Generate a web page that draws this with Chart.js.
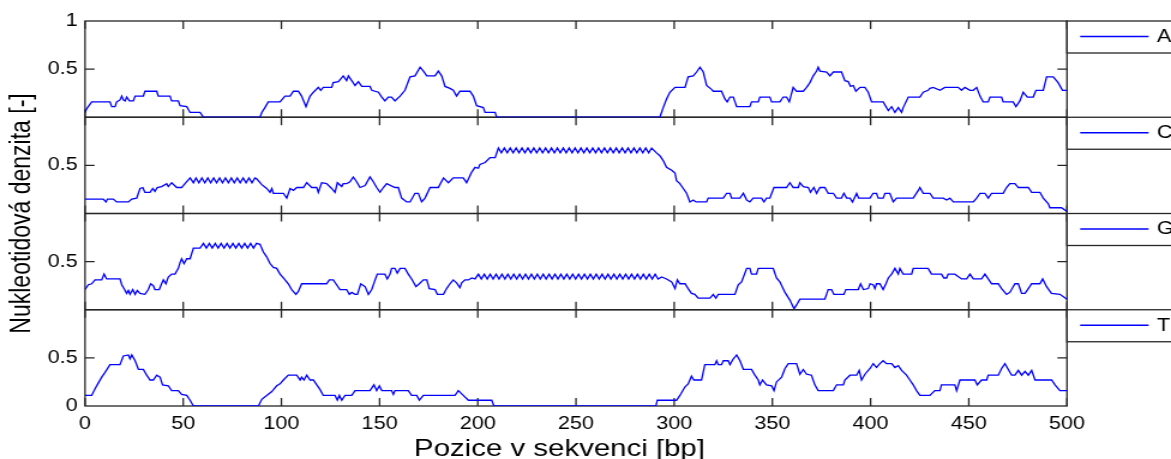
<!DOCTYPE html>
<html>
<head>
<meta charset="utf-8">
<script src="https://cdn.jsdelivr.net/npm/chart.js"></script>
<style>
  html, body { margin: 0; padding: 0; background: #fff; overflow: hidden; }
  /* the reference is stretched horizontally, so the canvas is too */
  #graf { transform: scaleX(1.1998); transform-origin: 0 0; }
</style>
</head>
<body>
<canvas id="graf" width="976" height="459"></canvas>
<script>
const nukleotidy = ['A', 'C', 'G', 'T'];
const xTicks = [0, 50, 100, 150, 200, 250, 300, 350, 400, 450, 500];
const yTicks = [0, 0.5, 1];

// [pozice, denzita]
const densitaA = [[0,0.05],[0.9,0.09],[3.4,0.16],[12.7,0.16],[13.6,0.11],[15.3,0.11],[16.1,0.16],[17.8,0.18],[18.7,0.22],[19.5,0.18],[20.4,0.17],[21.2,0.21],[22.6,0.17],[24.6,0.17],[25.5,0.22],[29.7,0.22],[30.5,0.27],[36.5,0.27],[37.3,0.22],[43.3,0.22],[44.1,0.17],[47.5,0.17],[48.4,0.12],[51.8,0.11],[53.5,0.05],[58.6,0.05],[60.3,0],[89.1,0],[90,0.05],[91.6,0.1],[93.3,0.16],[99.3,0.16],[101.8,0.22],[104.4,0.22],[106.1,0.27],[108.6,0.27],[110.3,0.22],[112.5,0.11],[114.6,0.22],[116.3,0.26],[118.8,0.31],[120,0.28],[121.3,0.31],[125.6,0.31],[126.4,0.36],[129,0.37],[131.5,0.43],[133.2,0.38],[134.1,0.43],[135.8,0.38],[137.5,0.33],[139.2,0.37],[140.9,0.32],[145.1,0.32],[146,0.28],[149.4,0.26],[151.1,0.21],[152.7,0.17],[154.4,0.21],[156.1,0.21],[157.8,0.17],[160.4,0.22],[162.9,0.28],[165.5,0.42],[168,0.43],[170.6,0.52],[172.3,0.48],[174,0.43],[178.2,0.43],[179.9,0.48],[181.6,0.43],[183.3,0.32],[185.8,0.3],[187.5,0.28],[189.2,0.22],[190.9,0.27],[196,0.27],[197.7,0.22],[199.4,0.12],[202.8,0.1],[203.7,0.05],[208.8,0.05],[209.6,0],[292.7,0],[294.4,0.1],[296.1,0.19],[297.8,0.26],[300.4,0.31],[305.5,0.31],[307.1,0.42],[309.7,0.43],[311.4,0.47],[313.1,0.52],[314.8,0.47],[316.5,0.33],[319,0.29],[319.9,0.27],[324.1,0.27],[325.8,0.19],[327,0.16],[328.4,0.21],[330.1,0.21],[331.8,0.11],[338.5,0.11],[339.4,0.16],[342.8,0.16],[343.6,0.21],[348.7,0.21],[349.6,0.16],[353.8,0.16],[355.5,0.21],[357.2,0.21],[358.6,0.16],[360.6,0.31],[362.3,0.27],[365.7,0.27],[367.4,0.31],[369.1,0.36],[370.8,0.43],[372.5,0.48],[373.3,0.52],[374.2,0.48],[377.6,0.47],[379.3,0.43],[381,0.47],[385.2,0.47],[386.9,0.38],[388.6,0.37],[389.8,0.32],[391.2,0.33],[392.5,0.27],[394.6,0.31],[397.1,0.31],[398.8,0.26],[400.5,0.16],[406.4,0.16],[409,0.07],[410.7,0.11],[412.4,0.05],[414.1,0.1],[415.8,0.05],[416.6,0.1],[419.2,0.21],[425.1,0.21],[426.8,0.26],[429.3,0.28],[430.2,0.3],[431.9,0.31],[435.3,0.28],[437.8,0.31],[444.6,0.31],[446.3,0.28],[448,0.31],[450.6,0.28],[452.3,0.28],[454,0.31],[455.7,0.22],[457.3,0.16],[459.9,0.16],[460.8,0.21],[466.7,0.21],[467.5,0.16],[472.6,0.16],[474,0.11],[476,0.17],[477.7,0.26],[479.8,0.21],[482.8,0.21],[484.2,0.28],[487.9,0.28],[489.6,0.42],[493,0.42],[495.5,0.36],[497.7,0.28],[500,0.28]];

const densitaC = [[0,0.15],[9.3,0.15],[10.7,0.12],[11.4,0.15],[14.4,0.15],[16.1,0.12],[22.1,0.12],[23.8,0.15],[26.3,0.16],[28,0.26],[29.4,0.27],[30.5,0.22],[33.1,0.22],[34.5,0.26],[35.6,0.23],[36.8,0.27],[39,0.28],[41.6,0.31],[42.4,0.28],[44.1,0.32],[46.7,0.27],[49.2,0.27],[50.9,0.31],[53.5,0.37],[55.2,0.32],
  [56.5,0.37],[58,0.32],[59.5,0.37],[61,0.32],[62.5,0.37],[64,0.32],[65.5,0.37],[67,0.32],[68.5,0.37],[70,0.32],[71.5,0.37],[73,0.32],[74.5,0.37],[76,0.32],[77.5,0.37],[79,0.32],[80.5,0.37],[82,0.32],[83.5,0.37],[85,0.32],[86.5,0.37],[87.4,0.36],
  [90,0.3],[92.5,0.26],[94.2,0.22],[95.1,0.26],[95.9,0.21],[101,0.21],[102.7,0.16],[104.4,0.26],[106.1,0.24],[107.8,0.27],[111.2,0.27],[112.9,0.32],[115.4,0.27],[118,0.27],[118.8,0.22],[120.5,0.32],[123,0.31],[125.6,0.26],[127.3,0.22],[128.5,0.32],[130.7,0.28],[131.5,0.31],[133.2,0.31],[134.9,0.33],[136.6,0.38],[138.3,0.33],[140,0.27],[142.6,0.29],[145.1,0.38],[146.8,0.33],[148.5,0.27],[150.2,0.22],[151.9,0.27],[153.6,0.31],[157.8,0.27],[159.5,0.27],[161.2,0.16],[163.8,0.12],[165.5,0.12],[168,0.21],[169.7,0.21],[171.4,0.12],[173.1,0.16],[175.7,0.27],[179.9,0.27],[182.5,0.37],[185,0.32],[187.5,0.37],[192.6,0.37],[194.3,0.32],[196.9,0.43],[198.6,0.48],[200.3,0.47],[201.1,0.51],[203.7,0.53],[206.2,0.58],[208.8,0.58],[210.5,0.68],
  [212,0.63],[213.5,0.68],[215,0.63],[216.5,0.68],[218,0.63],[219.5,0.68],[221,0.63],[222.5,0.68],[224,0.63],[225.5,0.68],[227,0.63],[228.5,0.68],[230,0.63],[231.5,0.68],[233,0.63],[234.5,0.68],[236,0.63],[237.5,0.68],[239,0.63],[240.5,0.68],[242,0.63],[243.5,0.68],[245,0.63],[246.5,0.68],[248,0.63],[249.5,0.68],[251,0.63],[252.5,0.68],[254,0.63],[255.5,0.68],[257,0.63],[258.5,0.68],[260,0.63],[261.5,0.68],[263,0.63],[264.5,0.68],[266,0.63],[267.5,0.68],[269,0.63],[270.5,0.68],[272,0.63],[273.5,0.68],[275,0.63],[276.5,0.68],[278,0.63],[279.5,0.68],[281,0.63],[282.5,0.68],[284,0.63],[285.5,0.68],[287,0.63],[288.5,0.68],
  [291,0.63],[292.7,0.6],[294.4,0.55],[296.1,0.48],[298.7,0.45],[300.4,0.42],[301.2,0.34],[302.9,0.31],[304.6,0.26],[306.3,0.21],[308,0.12],[309.7,0.14],[311.1,0.12],[316.5,0.12],[317.3,0.16],[325,0.16],[326.7,0.21],[328.4,0.21],[329.2,0.16],[333.5,0.16],[335.2,0.21],[336.9,0.14],[338.5,0.12],[340.2,0.16],[344.5,0.16],[345.7,0.12],[347,0.16],[348.7,0.16],[350.8,0.27],[357.2,0.27],[358.9,0.32],[360.6,0.27],[363.2,0.27],[364,0.32],[365.7,0.28],[368.3,0.27],[369.4,0.22],[371.1,0.27],[372.5,0.21],[374.2,0.27],[376.7,0.27],[378.4,0.21],[381,0.21],[382.7,0.16],[385.2,0.16],[386.4,0.21],[387.8,0.16],[389.5,0.16],[390.8,0.12],[392.9,0.21],[393.9,0.16],[399.7,0.16],[401.3,0.21],[403,0.21],[403.9,0.16],[406.4,0.16],[407.3,0.21],[409.8,0.21],[411.5,0.12],[413.2,0.16],[421.7,0.16],[424.3,0.24],[425.1,0.27],[426.8,0.21],[430.2,0.21],[431.9,0.16],[437,0.16],[438.7,0.14],[440.4,0.16],[442.1,0.12],[444.6,0.12],[452.3,0.12],[454,0.16],[455.7,0.21],[458.2,0.21],[459.9,0.16],[461.6,0.21],[467.5,0.21],[469.2,0.27],[470.9,0.31],[473.5,0.31],[475.2,0.27],[480.3,0.27],[482,0.22],[486.2,0.22],[487.9,0.16],[490.5,0.1],[491.3,0.06],[497.2,0.06],[500,0.02]];

const densitaG = [[0,0.21],[1.7,0.26],[3.4,0.27],[5.1,0.31],[8.5,0.31],[9.7,0.37],[11,0.32],[17.8,0.32],[18.7,0.26],[20.4,0.2],[21.2,0.17],[22.1,0.2],[22.9,0.16],[24.3,0.21],[25.5,0.16],[26.6,0.2],[28,0.17],[30.5,0.16],[32.2,0.21],[33.4,0.27],[34.8,0.25],[35.6,0.21],[37.8,0.21],[39,0.27],[39.9,0.31],[41.2,0.27],[42.4,0.34],[44.1,0.37],[45.8,0.37],[47.5,0.43],[48.4,0.49],[49.2,0.53],[50.4,0.48],[51.8,0.53],[53.5,0.53],[55.2,0.64],[58.6,0.64],[60.3,0.69],
  [61.8,0.64],[63.3,0.69],[64.8,0.64],[66.3,0.69],[67.8,0.64],[69.3,0.69],[70.8,0.64],[72.3,0.69],[73.8,0.64],[75.3,0.69],[76.8,0.64],[78.3,0.69],[79.8,0.64],[81.3,0.69],[82.8,0.64],[84.3,0.69],[85.8,0.64],[87.3,0.69],[89.1,0.68],
  [90.8,0.6],[92.5,0.55],[94.2,0.48],[95.9,0.44],[97.6,0.43],[99.3,0.37],[101,0.33],[103.5,0.27],[105.2,0.21],[107.4,0.16],[108.6,0.19],[110.3,0.27],[123,0.27],[124.4,0.31],[126.4,0.31],[128.1,0.26],[129.8,0.21],[133.2,0.21],[134.6,0.16],[135.8,0.18],[137.5,0.16],[138.7,0.16],[140.4,0.27],[142.6,0.24],[144.3,0.16],[146,0.21],[147.7,0.31],[148.8,0.37],[152.7,0.37],[153.9,0.32],[155.3,0.37],[156.1,0.43],[157.8,0.43],[159,0.38],[160.4,0.43],[162.9,0.43],[164.6,0.37],[166.3,0.32],[168.5,0.24],[170.2,0.27],[172.3,0.31],[174,0.31],[175.3,0.22],[178.2,0.21],[179.4,0.16],[182.5,0.16],[184.1,0.22],[185.8,0.27],[187.5,0.31],[189.2,0.28],[190.9,0.23],[191.8,0.28],[193.5,0.31],[195.2,0.31],[196.9,0.33],[198.6,0.32],[200.3,0.37],
  [201.8,0.32],[203.3,0.37],[204.8,0.32],[206.3,0.37],[207.8,0.32],[209.3,0.37],[210.8,0.32],[212.3,0.37],[213.8,0.32],[215.3,0.37],[216.8,0.32],[218.3,0.37],[219.8,0.32],[221.3,0.37],[222.8,0.32],[224.3,0.37],[225.8,0.32],[227.3,0.37],[228.8,0.32],[230.3,0.37],[231.8,0.32],[233.3,0.37],[234.8,0.32],[236.3,0.37],[237.8,0.32],[239.3,0.37],[240.8,0.32],[242.3,0.37],[243.8,0.32],[245.3,0.37],[246.8,0.32],[248.3,0.37],[249.8,0.32],[251.3,0.37],[252.8,0.32],[254.3,0.37],[255.8,0.32],[257.3,0.37],[258.8,0.32],[260.3,0.37],[261.8,0.32],[263.3,0.37],[264.8,0.32],[266.3,0.37],[267.8,0.32],[269.3,0.37],[270.8,0.32],[272.3,0.37],[273.8,0.32],[275.3,0.37],[276.8,0.32],[278.3,0.37],[279.8,0.32],[281.3,0.37],[282.8,0.32],[284.3,0.37],[285.8,0.32],[287.3,0.37],[288.8,0.32],[290.3,0.37],[291.8,0.32],[293.6,0.34],
  [296.1,0.32],[298.7,0.29],[300.4,0.22],[301.6,0.31],[302.9,0.27],[305.5,0.27],[307.1,0.22],[308.8,0.17],[310.5,0.16],[312.2,0.12],[318.2,0.12],[319.9,0.16],[321.2,0.12],[322.4,0.16],[330.9,0.16],[332.6,0.26],[334.3,0.29],[336.9,0.43],[338.5,0.43],[339.4,0.37],[341.9,0.37],[342.8,0.43],[350.4,0.43],[352.1,0.33],[353.8,0.29],[356.4,0.18],[358.9,0.1],[361,0.01],[362.3,0.05],[364,0.11],[376.7,0.11],[378.4,0.21],[380.1,0.21],[381.3,0.16],[386.4,0.16],[387.4,0.21],[393.7,0.21],[394.9,0.27],[396.3,0.21],[398.8,0.22],[399.7,0.27],[401.3,0.26],[402.2,0.22],[403,0.27],[404.7,0.27],[406.4,0.21],[407.8,0.27],[409,0.33],[410.7,0.37],[412.4,0.43],[414.1,0.37],[414.9,0.43],[416.6,0.37],[420.9,0.37],[421.7,0.43],[429.3,0.43],[431,0.37],[436.1,0.37],[437.3,0.33],[438.7,0.33],[439.5,0.37],[442.9,0.37],[446.3,0.32],[448.9,0.32],[450.6,0.37],[452.3,0.32],[456.5,0.32],[458.2,0.37],[459.9,0.32],[461.6,0.27],[465,0.27],[466.7,0.22],[469.2,0.16],[470.9,0.18],[473.5,0.27],[475.2,0.27],[476.9,0.17],[478.6,0.17],[480.3,0.22],[482,0.27],[486.2,0.27],[487.6,0.32],[489.6,0.24],[492.1,0.17],[496.4,0.16],[500,0.11]];

const densitaT = [[0,0.11],[3.4,0.11],[5.1,0.18],[6.8,0.24],[8.5,0.3],[10.2,0.35],[12.7,0.43],[17.8,0.43],[19.5,0.52],[22.1,0.53],[22.9,0.49],[23.8,0.53],[25.5,0.47],[27.2,0.38],[29.7,0.38],[31.4,0.32],[33.1,0.27],[34.8,0.27],[36.5,0.32],[38.2,0.3],[39.5,0.22],[42.4,0.21],[44.1,0.16],[47.5,0.16],[49.2,0.12],[51.8,0.11],[53.5,0.06],[55.2,0],[88.3,0],[90,0.07],[92.5,0.11],[95.1,0.15],[97.6,0.21],[99.3,0.23],[101,0.27],[103.5,0.32],[107.8,0.32],[109.5,0.27],[110.3,0.3],[111.5,0.27],[112.9,0.32],[114.6,0.27],[116.3,0.27],[118,0.22],[119.7,0.17],[121.3,0.11],[127.3,0.11],[128.5,0.06],[129.5,0.11],[130.7,0.06],[132.4,0.11],[135.8,0.11],[137.5,0.16],[145.1,0.16],[147.1,0.22],[148.5,0.16],[149.9,0.21],[151.1,0.16],[156.1,0.16],[157,0.12],[157.8,0.16],[164.6,0.16],[166.3,0.11],[168.9,0.11],[170.2,0.06],[172.3,0.11],[188.4,0.11],[190.1,0.16],[192.6,0.11],[195.2,0.06],[207.1,0.06],[208.2,0],[290.7,0],[291.4,0.06],[301.2,0.06],[302.9,0.11],[305.5,0.2],[307.1,0.23],[308.8,0.31],[310,0.27],[313.9,0.27],[315.6,0.43],[320.7,0.43],[321.6,0.47],[322.4,0.43],[324.1,0.43],[325,0.47],[327.5,0.47],[328.4,0.43],[330.1,0.49],[331.8,0.53],[333.5,0.47],[335.2,0.38],[339.4,0.38],[341.1,0.32],[342.8,0.27],[343.6,0.22],[345,0.27],[347,0.22],[349.6,0.21],[350.8,0.16],[352.1,0.25],[354.7,0.3],[356.4,0.39],[358.1,0.44],[362.3,0.44],[364,0.33],[365.7,0.38],[367.4,0.33],[369.9,0.32],[371.6,0.22],[373.3,0.16],[381,0.16],[382.7,0.22],[386.1,0.22],[386.9,0.27],[389.5,0.32],[392.9,0.32],[394.2,0.37],[395.4,0.27],[397.1,0.33],[399.7,0.39],[401.3,0.44],[403,0.4],[404.7,0.44],[406.4,0.47],[408.1,0.44],[410.7,0.44],[412.4,0.4],[414.1,0.42],[415.8,0.37],[418.3,0.32],[420,0.27],[421.7,0.22],[423.4,0.16],[425.1,0.11],[430.2,0.11],[432.7,0.16],[435.3,0.16],[436.1,0.22],[442.9,0.22],[443.8,0.16],[445.5,0.27],[453.1,0.27],[454.3,0.22],[456.5,0.27],[459.1,0.27],[459.9,0.32],[465,0.32],[466.7,0.39],[468.4,0.44],[470.1,0.38],[471.8,0.32],[473.5,0.32],[475.2,0.37],[476.9,0.32],[478.6,0.36],[480.3,0.32],[482,0.37],[483.7,0.27],[492.2,0.27],[493.9,0.22],[496.4,0.16],[500,0.16]];

const serie = [densitaA, densitaC, densitaG, densitaT];
const osy = ['yA', 'yC', 'yG', 'yT'];
const pismo = "'Liberation Sans', Arial, Helvetica, sans-serif";
const modra = 'rgb(0, 0, 255)';
const cerna = '#262626';

// which y tick labels each panel shows
const popisky = {
  yA: [0.5, 1],
  yC: [0.5],
  yG: [0.5],
  yT: [0, 0.5]
};

function osaY(id) {
  return {
    type: 'linear',
    position: 'left',
    stack: 'nt',
    stackWeight: 1,
    min: 0,
    max: 1,
    afterBuildTicks: s => { s.ticks = yTicks.map(v => ({ value: v })); },
    afterFit: s => { s.width = 70.85; },
    grid: { display: false, drawTicks: false },
    border: { display: false },
    ticks: {
      padding: 6,
      color: '#000',
      font: { family: pismo, size: 18 },
      callback: v => popisky[id].includes(v) ? String(v) : ''
    }
  };
}

const scales = {
  x: {
    type: 'linear',
    position: 'bottom',
    min: 0,
    max: 500,
    afterBuildTicks: s => { s.ticks = xTicks.map(v => ({ value: v })); },
    afterFit: s => { s.height = 53; },
    grid: { display: false, drawTicks: false },
    border: { display: false },
    ticks: {
      padding: 7,
      autoSkip: false,
      maxRotation: 0,
      color: '#000',
      font: { family: pismo, size: 18 }
    }
  }
};
// stacked left axes are laid out last-first, so add them bottom to top
osy.slice().reverse().forEach(id => { scales[id] = osaY(id); });

const ramecek = {
  id: 'ramecek',
  beforeDatasetsDraw(chart) {
    const ctx = chart.ctx;
    const x = chart.scales.x;
    ctx.save();
    ctx.strokeStyle = cerna;
    ctx.lineWidth = 1.3;
    osy.forEach(id => {
      const y = chart.scales[id];
      ctx.strokeRect(x.left, y.top, x.right - x.left, y.bottom - y.top);
      ctx.beginPath();
      xTicks.forEach(t => {
        const px = x.getPixelForValue(t);
        ctx.moveTo(px, y.top);
        ctx.lineTo(px, y.top + 8);
        ctx.moveTo(px, y.bottom);
        ctx.lineTo(px, y.bottom - 8);
      });
      const py = y.getPixelForValue(0.5);
      ctx.moveTo(x.left, py);
      ctx.lineTo(x.left + 8, py);
      ctx.moveTo(x.right, py);
      ctx.lineTo(x.right - 8, py);
      ctx.stroke();
    });
    ctx.restore();
  },
  afterDraw(chart) {
    const ctx = chart.ctx;
    const x = chart.scales.x;
    ctx.save();
    // legends, one per panel, sitting right of the plot
    osy.forEach((id, i) => {
      const y = chart.scales[id];
      const top = y.top;
      ctx.fillStyle = '#fff';
      ctx.fillRect(x.right, top, 120, 32);
      ctx.strokeStyle = cerna;
      ctx.lineWidth = 1.3;
      ctx.strokeRect(x.right, top, 120, 32);
      ctx.strokeStyle = modra;
      ctx.beginPath();
      ctx.moveTo(x.right + 11, top + 15.5);
      ctx.lineTo(x.right + 68, top + 15.5);
      ctx.stroke();
      ctx.fillStyle = '#000';
      ctx.font = '18px ' + pismo;
      ctx.textAlign = 'left';
      ctx.textBaseline = 'middle';
      ctx.fillText(nukleotidy[i], x.right + 75, top + 16);
    });
    // x title, a bit left of the plot centre as in the original
    ctx.fillStyle = '#000';
    ctx.font = '24.5px ' + pismo;
    ctx.textAlign = 'center';
    ctx.textBaseline = 'alphabetic';
    ctx.fillText('Pozice v sekvenci [bp]', 466.3, 456);
    // common y title
    const yTop = chart.scales.yA.top;
    const yBottom = chart.scales.yT.bottom;
    ctx.translate(18.6, (yTop + yBottom) / 2);
    ctx.rotate(-Math.PI / 2);
    ctx.font = '23px ' + pismo;
    ctx.textBaseline = 'middle';
    ctx.fillText('Nukleotidová denzita [-]', 0, 0);
    ctx.restore();
  }
};

new Chart(document.getElementById('graf'), {
  type: 'line',
  data: {
    datasets: serie.map((s, i) => ({
      label: nukleotidy[i],
      data: s.map(p => ({ x: p[0], y: p[1] })),
      yAxisID: osy[i],
      borderColor: modra,
      borderWidth: 1.3,
      pointRadius: 0,
      tension: 0,
      fill: false
    }))
  },
  options: {
    responsive: false,
    animation: false,
    layout: { padding: { left: 0, right: 86.7, top: 21, bottom: 0 } },
    plugins: { legend: { display: false }, tooltip: { enabled: false } },
    scales: scales
  },
  plugins: [ramecek]
});
</script>
</body>
</html>
